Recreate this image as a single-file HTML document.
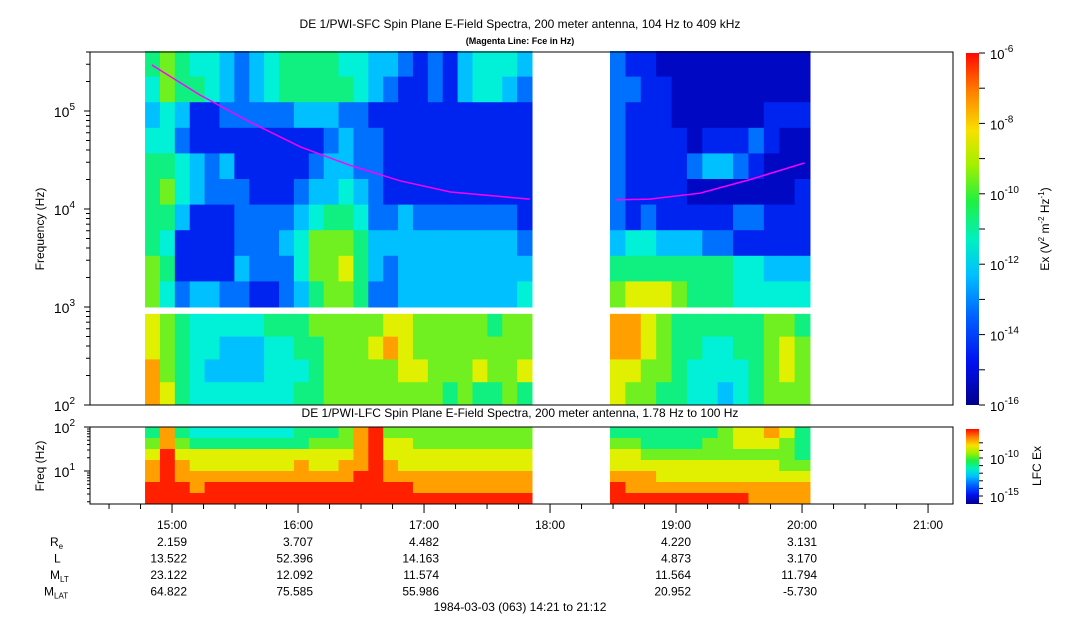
<!DOCTYPE html>
<html><head><meta charset="utf-8"><style>
body{margin:0;background:#fff;}
svg{display:block;font-family:"Liberation Sans",sans-serif;}
</style></head><body>
<svg id="chart" width="1083" height="620" viewBox="0 0 1083 620">
<defs>
<linearGradient id="jet" x1="0" y1="1" x2="0" y2="0">
<stop offset="0" stop-color="#00008c"/><stop offset="0.12" stop-color="#0010f0"/><stop offset="0.25" stop-color="#0060ff"/>
<stop offset="0.37" stop-color="#00c0ff"/><stop offset="0.47" stop-color="#00f0c0"/><stop offset="0.58" stop-color="#20f040"/>
<stop offset="0.68" stop-color="#a0f000"/><stop offset="0.78" stop-color="#f8e000"/><stop offset="0.89" stop-color="#ff8000"/>
<stop offset="1" stop-color="#ff0800"/></linearGradient>
</defs>
<text x="520" y="28" font-size="12" text-anchor="middle">DE 1/PWI-SFC  Spin Plane E-Field Spectra, 200 meter antenna, 104 Hz to 409 kHz</text>
<text x="520" y="44" font-size="9" font-weight="bold" text-anchor="middle">(Magenta Line: Fce in Hz)</text>
<text x="520" y="417" font-size="12" text-anchor="middle">DE 1/PWI-LFC  Spin Plane E-Field Spectra, 200 meter antenna, 1.78 Hz to 100 Hz</text>
<g id="heat"></g>
<g id="axes"></g>
<rect x="966" y="53" width="13" height="352" fill="url(#jet)"/>
<rect x="966" y="429" width="13" height="75" fill="url(#jet)"/>
<text transform="translate(1049,229) rotate(-90)" font-size="12" text-anchor="middle">Ex (V<tspan font-size="8" dy="-5">2</tspan><tspan dy="5"> m</tspan><tspan font-size="8" dy="-5">-2</tspan><tspan dy="5"> Hz</tspan><tspan font-size="8" dy="-5">-1</tspan><tspan dy="5">)</tspan></text>
<text transform="translate(1041,466) rotate(-90)" font-size="12" text-anchor="middle">LFC Ex</text>
<text transform="translate(44,229) rotate(-90)" font-size="12" text-anchor="middle">Frequency (Hz)</text>
<text transform="translate(44,466) rotate(-90)" font-size="12" text-anchor="middle">Freq (Hz)</text>
<text x="520" y="611" font-size="12" text-anchor="middle">1984-03-03 (063) 14:21 to 21:12</text>
</svg>
<script>
// ---- data ----
const segStart=[14.786,18.476];
const segEnd=[17.857,20.063];
// upper band rows (10^3 .. 409k) top->bottom, digits = intensity level 0..9
const sfcHigh1=["56544323455554433212134443","46554323455555432112134432","34311222223332211111111111","44211111111123221111111111","55432311111233221111111111","56432221112334321111111111","55311122223455422322222221","54111122234666533333333332","65111132224667532333333333","64233221123566522333333334"];
const sfcLow1=["76544444555666667766666566","76544333445566678766666666","86543333444566666776667667","87544444445566666666565565"];
const sfcHigh2=["2110000000000","2211000000000","2111000000111","2111101112100","2111123321000","2111100000001","2121111122111","3443332211111","5555555544333","6777655544444"];
const sfcLow2=["8876555555665","8876554455676","7766544445676","7665544345666"];
const lfc1=["58544444445556896666666666","68655555555666897766666666","79777777777777897777777777","89877777778778898777777777","89888888888888998888888888","99989999999999999988888888","99999999999999999999999999"];
const lfc2=["5555555677875","6655556677765","7766666666665","7777777777766","8887777777777","9888888888888","9999999998888"];
// Fce line
const fceT1=[14.84,15.22,15.62,16.02,16.41,16.81,17.21,17.84];
const fceF1=[295000,146000,77000,43000,28000,19400,14900,12600];
const fceT2=[18.52,18.79,19.19,19.59,20.02];
const fceF2=[12400,12600,14500,20000,29500];
const hourLabels=["15:00","16:00","17:00","18:00","19:00","20:00","21:00"];
const hourVals=[15,16,17,18,19,20,21];
const ephNames=["Re","L","MLT","MLAT"];
const ephHours=[15,16,17,19,20];
const ephVals=[["2.159","3.707","4.482","4.220","3.131"],["13.522","52.396","14.163","4.873","3.170"],["23.122","12.092","11.574","11.564","11.794"],["64.822","75.585","55.986","20.952","-5.730"]];
const cbTicks=[-6,-8,-10,-12,-14,-16];
const cb2Ticks=[-10,-15];
// ---- scales ----
const X0=90,X1=953,T0=14.349,T1=21.198;
const xs=t=>X0+(t-T0)/(T1-T0)*(X1-X0);
const ys=f=>405-(Math.log10(f)-2)*98;
const yl=f=>504-(Math.log10(f)-Math.log10(1.78))/(2-Math.log10(1.78))*77;
const cbY=e=>53+(-6-e)/10*352;
const cb2Y=e=>458+(-10-e)/5*38;
const pal=["#0008c4","#0024f0","#0070ff","#00c0ff","#00f0d8","#10f080","#70f020","#e0f000","#ffa000","#ff2000"];
const NS="http://www.w3.org/2000/svg";
const heat=document.getElementById('heat'),axes=document.getElementById('axes');
function mk(tag,at,par){const e=document.createElementNS(NS,tag);for(const k in at)e.setAttribute(k,at[k]);(par||axes).appendChild(e);return e;}
function grid(rows,seg,lf0,lf1,ymap,name){
  const n=rows.length,m=rows[0].length;
  for(let r=0;r<n;r++){
    const fTop=Math.pow(10,lf1-(lf1-lf0)*r/n),fBot=Math.pow(10,lf1-(lf1-lf0)*(r+1)/n);
    const y0=ymap(fTop),y1=ymap(fBot);
    for(let c=0;c<m;c++){
      const ta=segStart[seg]+(segEnd[seg]-segStart[seg])*c/m,tb=segStart[seg]+(segEnd[seg]-segStart[seg])*(c+1)/m;
      const e=mk('rect',{x:xs(ta),y:y0,width:xs(tb)-xs(ta)+0.5,height:y1-y0+0.5,fill:pal[+rows[r][c]]},heat);
      
      
    }
  }
}
grid(sfcHigh1,0,3,5.612,ys,'sfc-cell');grid(sfcLow1,0,2,2.93,ys,'sfc-cell');
grid(sfcHigh2,1,3,5.612,ys,'sfc-cell');grid(sfcLow2,1,2,2.93,ys,'sfc-cell');
grid(lfc1,0,Math.log10(1.78),2,yl,'lfc-cell');grid(lfc2,1,Math.log10(1.78),2,yl,'lfc-cell');
[[fceT1,fceF1],[fceT2,fceF2]].forEach(([T,F])=>{
  const p=mk('polyline',{points:T.map((t,i)=>xs(t)+','+ys(F[i])).join(' '),fill:'none',stroke:'#ff00ff','stroke-width':1.5});
  
  
});
// frames
const f1=mk('rect',{x:90,y:52,width:863,height:353,fill:'none',stroke:'#000','stroke-width':1});

const f2=mk('rect',{x:90,y:427,width:863,height:77,fill:'none',stroke:'#000','stroke-width':1});

// y ticks upper
for(let d=2;d<=5;d++)for(let k=1;k<=9;k++){const f=k*Math.pow(10,d);if(f>409000)break;const y=ys(f);
  mk('line',{x1:k==1?84:86,x2:90,y1:y,y2:y,stroke:'#000'});
  if(k==1){const t=mk('text',{x:75,y:y+6,'font-size':14,'text-anchor':'end'});t.textContent='10';
    const s=mk('tspan',{'font-size':10,dy:-7},t);s.textContent=d;
    }}
for(let d=0;d<=2;d++)for(let k=1;k<=9;k++){const f=k*Math.pow(10,d);if(f<1.78||f>100)continue;const y=yl(f);
  mk('line',{x1:k==1?84:87,x2:90,y1:y,y2:y,stroke:'#000'});
  if(k==1){const t=mk('text',{x:75,y:y+6,'font-size':14,'text-anchor':'end'});t.textContent='10';
    const s=mk('tspan',{'font-size':10,dy:-7},t);s.textContent=d;
    }}
// x ticks
for(let q=Math.ceil(T0*4);q<=T1*4;q++){const x=xs(q/4);mk('line',{x1:x,x2:x,y1:504,y2:q%4==0?513:509,stroke:'#000'});}
hourVals.forEach((h,i)=>{const t=mk('text',{x:xs(h)+15,y:529,'font-size':12,'text-anchor':'end'});t.textContent=hourLabels[i];
  });
// ephemeris
const subs=[["R","e"],["L",""],["M","LT"],["M","LAT"]];
ephNames.forEach((n,r)=>{const y=546+r*16.5;
  const t=mk('text',{x:r==3?44:(r==2?50:(r==1?54:50)),y:y,'font-size':12});t.textContent=subs[r][0];
  if(subs[r][1]){const s=mk('tspan',{'font-size':8,dy:3},t);s.textContent=subs[r][1];}
  
  ephHours.forEach((h,i)=>{const v=mk('text',{x:xs(h)+15,y:y,'font-size':12,'text-anchor':'end'});v.textContent=ephVals[r][i];
    });});
// colorbar ticks
for(let e=-6;e>=-16;e--){const y=cbY(e);mk('line',{x1:979,x2:985,y1:y,y2:y,stroke:'#000'});}
cbTicks.forEach(e=>{const y=cbY(e);const t=mk('text',{x:990,y:y+6,'font-size':13});t.textContent='10';
  const s=mk('tspan',{'font-size':10,dy:-7},t);s.textContent=e;
  });
for(let e=-8;e>=-16;e--){const y=cb2Y(e);if(y<429||y>504)continue;mk('line',{x1:979,x2:983,y1:y,y2:y,stroke:'#000'});}
cb2Ticks.forEach(e=>{const y=cb2Y(e);const t=mk('text',{x:990,y:y+6,'font-size':13});t.textContent='10';
  const s=mk('tspan',{'font-size':10,dy:-7},t);s.textContent=e;
  });
</script>
</body></html>
